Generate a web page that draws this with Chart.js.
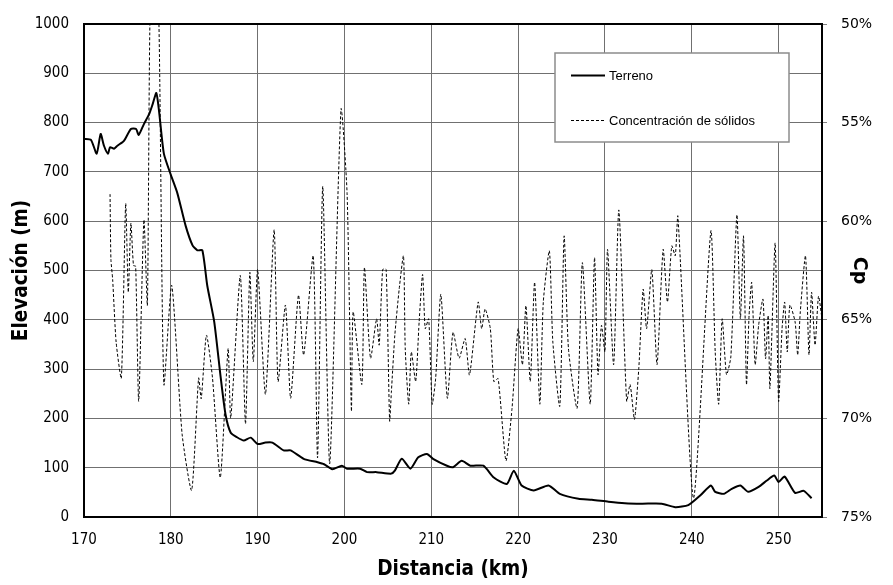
<!DOCTYPE html>
<html>
<head>
<meta charset="utf-8">
<script src="https://cdn.jsdelivr.net/npm/chart.js@4"></script>
<style>
  html, body { margin: 0; padding: 0; background: #fff; }
  #wrap { width: 893px; height: 585px; position: relative; }
</style>
</head>
<body>
<div id="wrap"><canvas id="perfil" width="893" height="585"></canvas></div>
<script>
// perfil del terreno (km, m)
const kmTerreno = [170, 170.8, 171.46, 171.92, 172.3, 172.76, 173.0, 173.46, 173.84, 174.6, 175.4, 176.0, 176.3, 176.9, 177.5, 177.9, 178.33, 178.64, 179.2, 180.0, 180.75, 181.7, 182.5, 183.06, 183.63, 184.2, 185.0, 185.75, 186.3, 186.9, 187.6, 188.4, 189.2, 190.0, 190.9, 191.7, 193.0, 193.8, 195.3, 196.9, 197.65, 198.6, 199.7, 200.3, 201.8, 202.6, 203.7, 205.4, 205.8, 206.6, 207.6, 208.5, 209.5, 210.2, 211.8, 212.5, 213.5, 214.5, 216.0, 217.2, 218.7, 219.5, 220.4, 221.8, 223.5, 224.8, 226.95, 228.5, 230.4, 232.3, 234.25, 236.55, 238.1, 239.6, 241.0, 242.2, 242.7, 243.7, 244.6, 245.6, 246.5, 247.7, 248.65, 249.5, 250.0, 250.7, 251.9, 252.9, 253.8];
const elevTerreno = [767, 765, 737, 777, 753, 737, 750, 747, 753, 763, 787, 787, 775, 797, 817, 837, 860, 824, 737, 694, 657, 591, 551, 541, 541, 469, 396, 282, 208, 171, 162, 155, 161, 148, 151, 151, 135, 135, 118, 111, 107, 97, 104, 98, 98, 91, 91, 88, 94, 118, 98, 121, 128, 118, 104, 101, 114, 104, 104, 80, 67, 94, 64, 54, 64, 47, 37, 35, 31, 28, 27, 27, 20, 24, 44, 64, 51, 47, 57, 64, 51, 61, 74, 84, 71, 82, 49, 53, 38];

// concentracion de solidos (km, %)
const kmCp = [173.0, 173.1, 173.3, 173.7, 174.3, 174.8, 175.1, 175.4, 175.7, 175.95, 176.3, 176.9, 177.3, 177.6, 178.1, 178.62, 179.2, 180.1, 181.3, 182.4, 183.2, 183.5, 184.1, 184.8, 185.7, 186.6, 186.9, 188.0, 188.6, 189.1, 189.5, 190.0, 190.9, 191.9, 192.35, 193.2, 193.8, 194.7, 195.3, 196.4, 196.9, 197.5, 198.3, 199.6, 200.3, 200.8, 201.0, 202.0, 202.3, 203.0, 203.7, 204.0, 204.4, 204.8, 205.2, 205.4, 205.8, 206.3, 206.8, 207.0, 207.4, 207.7, 208.2, 208.6, 209.0, 209.3, 209.7, 210.1, 210.5, 211.1, 211.85, 212.5, 213.2, 213.9, 214.4, 215.4, 215.8, 216.2, 216.8, 217.2, 217.7, 218.6, 219.3, 220.0, 220.5, 220.9, 221.4, 221.9, 222.5, 222.9, 223.6, 224.0, 224.8, 225.3, 225.8, 226.8, 227.4, 228.3, 228.8, 229.2, 229.6, 230.0, 230.3, 231.0, 231.6, 232.5, 232.9, 233.4, 233.9, 234.4, 234.8, 235.4, 236.0, 236.7, 237.2, 237.7, 238.1, 238.4, 240.2, 242.2, 242.7, 243.1, 243.5, 244.0, 244.5, 245.2, 245.6, 245.96, 246.3, 246.6, 246.9, 247.3, 247.7, 248.2, 248.5, 248.8, 249.0, 249.6, 250.0, 250.4, 250.7, 251.0, 251.3, 251.9, 252.2, 252.5, 253.1, 253.5, 253.8, 254.2, 254.6, 255.0];
const valCp = [58.63, 61.93, 62.95, 66.13, 67.95, 59.10, 63.60, 60.10, 62.25, 62.28, 69.13, 59.93, 64.25, 49.75, 46.25, 49.75, 68.28, 63.25, 70.80, 73.65, 67.95, 69.0, 65.78, 67.95, 73.0, 66.45, 69.98, 62.75, 70.28, 62.6, 67.13, 62.45, 68.78, 60.43, 68.13, 64.25, 68.98, 63.75, 66.78, 61.75, 72.0, 58.23, 72.3, 54.33, 58.58, 69.63, 64.6, 68.28, 62.35, 66.95, 64.95, 66.28, 62.45, 62.45, 70.13, 68.68, 65.78, 63.45, 61.75, 66.48, 69.28, 66.63, 68.13, 65.1, 62.7, 65.45, 64.95, 69.28, 67.98, 63.7, 68.98, 65.63, 66.95, 65.95, 67.8, 64.1, 65.45, 64.45, 65.45, 68.13, 67.98, 72.15, 69.48, 65.45, 67.28, 64.28, 68.13, 63.1, 69.28, 64.1, 61.5, 66.13, 69.38, 60.75, 66.48, 69.48, 62.1, 69.28, 61.85, 67.78, 65.28, 66.63, 61.43, 67.28, 59.43, 69.13, 68.28, 70.05, 67.45, 63.45, 65.45, 62.45, 67.28, 61.43, 64.1, 61.25, 61.75, 59.75, 74.05, 60.5, 66.63, 69.28, 64.95, 67.78, 66.88, 59.68, 64.95, 60.75, 68.28, 64.78, 63.1, 67.28, 65.28, 63.95, 66.98, 64.78, 68.48, 61.1, 69.13, 65.45, 64.1, 66.63, 64.25, 65.1, 66.78, 64.6, 61.75, 66.78, 63.6, 66.28, 63.8, 64.95];

const etiquetas = ['Terreno', 'Concentración de sólidos'];

const fuenteTicks = "'Liberation Sans Narrow', 'DejaVu Sans Condensed', sans-serif";

// marco negro del area del grafico
const marco = {
    id: 'marco',
    afterDraw(chart) {
        const a = chart.chartArea;
        const ctx = chart.ctx;
        ctx.save();
        ctx.strokeStyle = '#000';
        ctx.lineWidth = 2;
        ctx.strokeRect(a.left, a.top, a.right - a.left, a.bottom - a.top);
        ctx.restore();
    }
};

// leyenda dentro del grafico
const leyenda = {
    id: 'leyenda',
    afterDraw(chart) {
        const ctx = chart.ctx;
        ctx.save();
        ctx.fillStyle = '#fff';
        ctx.fillRect(555, 53, 234, 89);
        ctx.strokeStyle = '#8c8c8c';
        ctx.lineWidth = 1.5;
        ctx.strokeRect(555, 53, 234, 89);

        ctx.strokeStyle = '#000';
        ctx.lineWidth = 2;
        ctx.beginPath();
        ctx.moveTo(571, 75.5);
        ctx.lineTo(605, 75.5);
        ctx.stroke();

        ctx.lineWidth = 1;
        ctx.setLineDash([3, 2]);
        ctx.beginPath();
        ctx.moveTo(571, 120.5);
        ctx.lineTo(604, 120.5);
        ctx.stroke();
        ctx.setLineDash([]);

        ctx.fillStyle = '#000';
        ctx.font = "13px 'Liberation Sans', Arial, sans-serif";
        ctx.textBaseline = 'middle';
        ctx.fillText(etiquetas[0], 609, 76);
        ctx.fillText(etiquetas[1], 609, 121);
        ctx.restore();
    }
};

function crearGrafico() {
    const ctx = document.getElementById('perfil').getContext('2d');
    new Chart(ctx, {
        type: 'line',
        data: {
            datasets: [
                {
                    label: etiquetas[0],
                    data: kmTerreno.map((k, i) => ({ x: k, y: elevTerreno[i] })),
                    yAxisID: 'y',
                    borderColor: '#000',
                    borderWidth: 2,
                    pointRadius: 0,
                    tension: 0.2
                },
                {
                    label: etiquetas[1],
                    data: kmCp.map((k, i) => ({ x: k, y: valCp[i] })),
                    yAxisID: 'y1',
                    borderColor: '#000',
                    borderWidth: 1,
                    borderDash: [3, 2],
                    pointRadius: 0,
                    tension: 0.2
                }
            ]
        },
        options: {
            responsive: false,
            animation: false,
            layout: { padding: { top: 19, left: 0, right: 0, bottom: 0 } },
            plugins: {
                legend: { display: false },
                tooltip: { enabled: false }
            },
            scales: {
                x: {
                    type: 'linear',
                    min: 170,
                    max: 255,
                    afterFit: (s) => { s.height = 68; },
                    afterBuildTicks: (s) => { s.ticks = s.ticks.filter(t => t.value % 10 === 0); },
                    ticks: {
                        stepSize: 10,
                        padding: 14,
                        color: '#000',
                        font: { family: fuenteTicks, size: 15 },
                        callback: (v) => String(v)
                    },
                    grid: { color: '#707070', lineWidth: 1, drawTicks: false },
                    border: { display: false },
                    title: {
                        display: true,
                        text: 'Distancia (km)',
                        color: '#000',
                        padding: { top: 0, bottom: 3 },
                        font: { family: fuenteTicks, size: 20.5, weight: 'bold' }
                    }
                },
                y: {
                    position: 'left',
                    min: 0,
                    max: 1000,
                    afterFit: (s) => { s.width = 84; },
                    ticks: {
                        stepSize: 100,
                        padding: 15,
                        color: '#000',
                        font: { family: fuenteTicks, size: 15 },
                        callback: (v) => String(v)
                    },
                    grid: { color: '#707070', lineWidth: 1, drawTicks: false },
                    border: { display: false },
                    title: {
                        display: true,
                        text: 'Elevación (m)',
                        color: '#000',
                        padding: { top: 9, bottom: 0 },
                        font: { family: fuenteTicks, size: 20.5, weight: 'bold' }
                    }
                },
                y1: {
                    position: 'right',
                    reverse: true,
                    min: 50,
                    max: 75,
                    afterFit: (s) => { s.width = 71; },
                    ticks: {
                        stepSize: 5,
                        padding: 14,
                        color: '#000',
                        font: { family: "'DejaVu Sans', sans-serif", size: 14 },
                        callback: (v) => v + '%'
                    },
                    grid: { drawOnChartArea: false, color: '#808080', tickLength: 5 },
                    border: { display: false },
                    title: {
                        display: true,
                        text: 'Cp',
                        color: '#000',
                        padding: { top: 23, bottom: 0 },
                        font: { family: "'DejaVu Sans', sans-serif", size: 19, weight: 'bold' }
                    }
                }
            }
        },
        plugins: [marco, leyenda]
    });
}

document.addEventListener('DOMContentLoaded', () => {
    crearGrafico();
});
</script>
</body>
</html>
